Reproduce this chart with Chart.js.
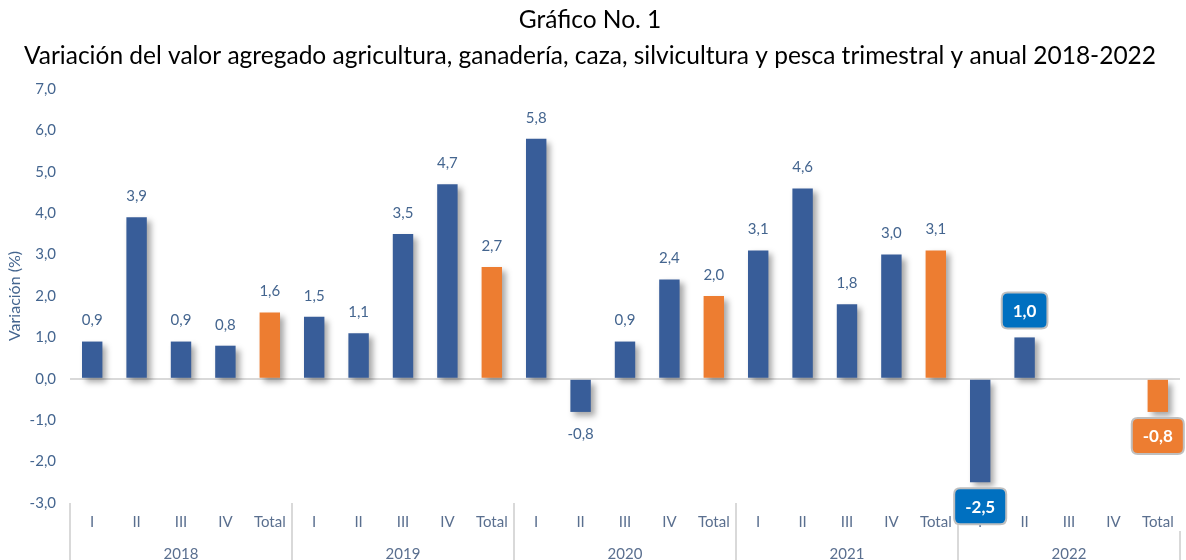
<!DOCTYPE html>
<html><head><meta charset="utf-8">
<script src="https://cdn.jsdelivr.net/npm/chart.js@4.4.1/dist/chart.umd.min.js"></script>
<style>html,body{margin:0;padding:0;background:#fff}#wrap{width:1186px;height:560px}</style>
</head><body><div id="wrap"><canvas id="c" width="1186" height="560"></canvas></div>
<script>
const titleLines = ['Gráfico No. 1', 'Variación del valor agregado agricultura, ganadería, caza, silvicultura y pesca trimestral y anual 2018-2022'];
const quarters = ['I','II','III','IV','Total','I','II','III','IV','Total','I','II','III','IV','Total','I','II','III','IV','Total','I','II','III','IV','Total'];
const years = ['2018','2019','2020','2021','2022'];
const values = [0.9,3.9,0.9,0.8,1.6, 1.5,1.1,3.5,4.7,2.7, 5.8,-0.8,0.9,2.4,2.0, 3.1,4.6,1.8,3.0,3.1, -2.5,1.0,null,null,-0.8];
const calloutIdx = [20,21,24];
const yMin = -3, yMax = 7, yStep = 1;
const yTitle = 'Variación (%)';

const BLUE = '#385D99', ORANGE = '#ED7D31', TXT = '#44658F', QTXT = '#5A6F8F', SEP = '#D9D9D9';
const FONT = 'Lato, "Noto Sans", sans-serif';
const fmt = v => v.toFixed(1).replace('.', ',');
const barColors = quarters.map(q => q === 'Total' ? ORANGE : BLUE);

const shadowPlugin = {
  id: 'shadow',
  beforeDatasetsDraw(chart) {
    const c = chart.ctx; c.save();
    c.shadowColor = 'rgba(0,0,0,0.35)'; c.shadowBlur = 6; c.shadowOffsetX = 4; c.shadowOffsetY = 4;
  },
  afterDatasetsDraw(chart) { chart.ctx.restore(); }
};

function rrect(c, x, y, w, h, r) {
  c.beginPath();
  c.moveTo(x + r, y); c.lineTo(x + w - r, y); c.quadraticCurveTo(x + w, y, x + w, y + r);
  c.lineTo(x + w, y + h - r); c.quadraticCurveTo(x + w, y + h, x + w - r, y + h);
  c.lineTo(x + r, y + h); c.quadraticCurveTo(x, y + h, x, y + h - r);
  c.lineTo(x, y + r); c.quadraticCurveTo(x, y, x + r, y); c.closePath();
}

const labelPlugin = {
  id: 'vlabels',
  afterDraw(chart) {
    const c = chart.ctx; const meta = chart.getDatasetMeta(0);
    meta.data.forEach((bar, i) => {
      const v = values[i]; if (v == null) return;
      const t = fmt(v); const neg = v < 0;
      c.save();
      c.textAlign = 'center'; c.textBaseline = 'middle';
      if (calloutIdx.includes(i)) {
        c.font = 'bold 17px ' + FONT;
        const w = c.measureText(t).width + 22, h = 36;
        const cy = neg ? bar.y + 6 + h / 2 : bar.y - 9 - h / 2;
        rrect(c, bar.x - w / 2, cy - h / 2, w, h, 6);
        c.fillStyle = quarters[i] === 'Total' ? ORANGE : '#0070C0'; c.fill();
        c.lineWidth = 2; c.strokeStyle = '#BFBFBF'; c.stroke();
        c.fillStyle = '#fff'; c.fillText(t, bar.x, cy + 1);
      } else {
        c.font = '15px ' + FONT; c.fillStyle = TXT;
        c.fillText(t, bar.x, neg ? bar.y + 22 : bar.y - 21);
      }
      c.restore();
    });
  }
};

new Chart(document.getElementById('c'), {
  type: 'bar',
  data: { labels: quarters, datasets: [{ data: values, backgroundColor: barColors, barPercentage: 0.575, categoryPercentage: 0.8 }] },
  options: {
    responsive: false, animation: false,
    layout: { padding: { left: 0, right: 6, top: 0, bottom: 0 } },
    plugins: {
      legend: { display: false }, tooltip: { enabled: false },
      title: { display: true, text: titleLines, color: '#000', font: { family: FONT, size: 24.5, weight: 'normal', lineHeight: 1.47 }, padding: { top: 2, bottom: 15 } }
    },
    scales: {
      x: {
        position: 'bottom', offset: true,
        grid: { offset: true, drawOnChartArea: false, drawTicks: true, tickLength: 28, lineWidth: 2,
                color: ctx => (ctx.index % 5 === 0) ? SEP : 'rgba(0,0,0,0)' },
        border: { display: false },
        ticks: { color: QTXT, font: { family: FONT, size: 15 }, padding: -18, maxRotation: 0, autoSkip: false },
        afterFit: s => { s.height = 28; }
      },
      x2: {
        type: 'category', labels: years, position: 'bottom', offset: true,
        grid: { offset: true, drawOnChartArea: false, drawTicks: true, tickLength: 34, lineWidth: 2, color: SEP },
        border: { display: false },
        ticks: { color: QTXT, font: { family: FONT, size: 15 }, padding: -20, maxRotation: 0 },
        afterFit: s => { s.height = 29; }
      },
      y: {
        min: yMin, max: yMax,
        ticks: { stepSize: yStep, color: TXT, font: { family: FONT, size: 15 }, padding: 14, callback: v => fmt(v) },
        grid: { drawTicks: false, lineWidth: 2, color: ctx => (ctx.tick && ctx.tick.value === 0) ? SEP : 'rgba(0,0,0,0)' },
        border: { display: false },
        title: { display: true, text: yTitle, color: TXT, font: { family: FONT, size: 16 }, padding: { top: 5, bottom: 0 } },
        afterFit: s => { s.width = 70; }
      }
    }
  },
  plugins: [shadowPlugin, labelPlugin]
});
</script></body></html>
